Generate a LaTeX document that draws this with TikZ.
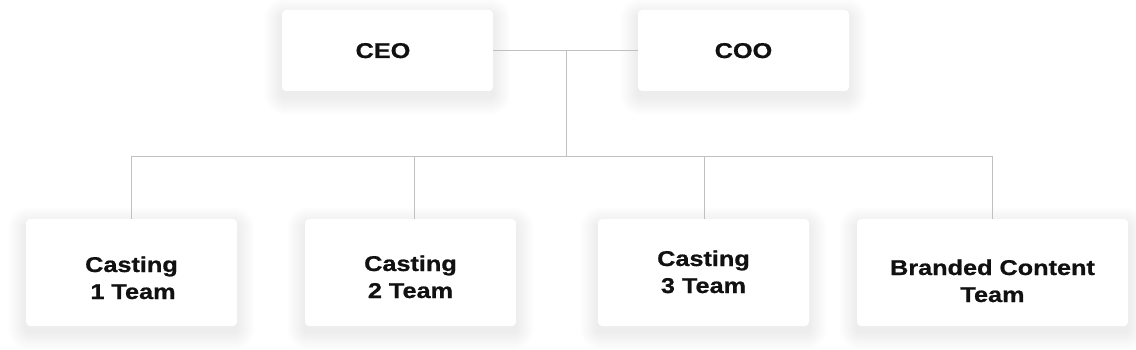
\documentclass[tikz,border=0pt]{standalone}
\usepackage{fontspec}
\newfontfamily\cardfont[FakeStretch=1.18,FakeBold=0.8]{Liberation Sans}
\usetikzlibrary{calc,backgrounds}
\definecolor{linegray}{RGB}{192,192,192}
\definecolor{inkblack}{RGB}{17,17,17}
\tikzset{
  card/.style={fill=white, draw=none, rounded corners=4pt, inner sep=0pt},
  topcard/.style={card, minimum width=211pt, minimum height=81pt},
  lowcard/.style={card, minimum width=211pt, minimum height=107pt},
  widecard/.style={card, minimum width=271pt, minimum height=107pt},
  lbl/.style={anchor=base, inner sep=0pt, text=inkblack,
    font=\cardfont\bfseries\fontsize{21.4}{27}\selectfont},
  conn/.style={draw=linegray, line width=1pt},
  softshadow/.style={fill=black, opacity=0.0048}
}
\newcommand{\cardshadow}[1]{%
  \foreach \r in {1,...,18}{%
    \fill[softshadow, rounded corners={4pt+\r pt}]
      ($(#1.south west)+(-\r,6+\r)$) rectangle ($(#1.north east)+(\r,6-\r)$);
  }%
}
\begin{document}
\begin{tikzpicture}[x=1pt,y=-1pt]
  \useasboundingbox (0,0) rectangle (1136,350);

  % boxes
  \node[topcard] (ceo) at (387.5,50.5) {};
  \node[topcard] (coo) at (743.5,50.5) {};
  \node[lowcard] (t1) at (131.5,272.5) {};
  \node[lowcard] (t2) at (410.5,272.5) {};
  \node[lowcard] (t3) at (703.5,272.5) {};
  \node[widecard] (t4) at (992.5,272.5) {};

  \begin{scope}[on background layer]
    \fill[white] (0,0) rectangle (1136,350);
    \cardshadow{ceo}
    \cardshadow{coo}
    \cardshadow{t1}
    \cardshadow{t2}
    \cardshadow{t3}
    \cardshadow{t4}
  \end{scope}

  % labels
  \node[lbl] (ceol) at (383,58) {CEO};
  \node[lbl] (cool) at (743.5,58) {COO};
  \node[lbl] (t1a) at (131.5,272) {Casting};
  \node[lbl] (t1b) at (133,299) {1 Team};
  \node[lbl] (t2a) at (410.5,271) {Casting};
  \node[lbl] (t2b) at (410.5,298) {2 Team};
  \node[lbl] (t3a) at (703.5,266) {Casting};
  \node[lbl] (t3b) at (703.5,293) {3 Team};
  \node[lbl] (t4a) at (992.5,275) {Branded Content};
  \node[lbl] (t4b) at (992.5,302) {Team};

  % connectors
  \coordinate (jn) at (566,50.5);
  \coordinate (bus) at (566,156.5);
  \coordinate (d2) at (414,156.5);
  \coordinate (d3) at (704,156.5);
  \draw[conn] (ceo.east) -- (coo.west);
  \draw[conn] (jn) -- (bus);
  \draw[conn] (t1.north) |- (bus) -| (t4.north);
  \draw[conn] (d2) -- (d2 |- t2.north);
  \draw[conn] (d3) -- (d3 |- t3.north);
\end{tikzpicture}
\end{document}
